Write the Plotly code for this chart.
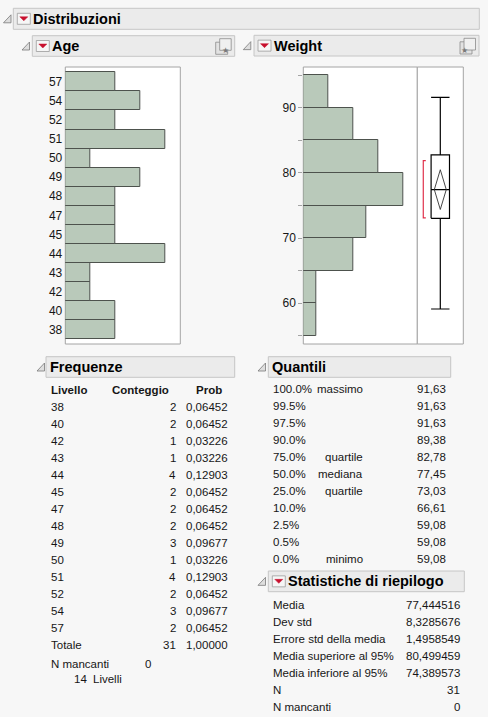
import plotly.graph_objects as go

W, H = 488, 717

age_levels = ["38", "40", "42", "43", "44", "45", "47", "48", "49", "50", "51", "52", "54", "57"]
age_counts = [2, 2, 1, 1, 4, 2, 2, 2, 3, 1, 4, 2, 3, 2]

weight_bin_lo = [55, 60, 65, 70, 75, 80, 85, 90]
weight_bin_counts = [1, 1, 4, 5, 8, 6, 4, 2]
weight_bin_width = 5
weight_tickvals = [55, 60, 65, 70, 75, 80, 85, 90, 95]
weight_ticktext = ["", "60", "", "70", "", "80", "", "90", ""]

quant_pct = ["100.0%", "99.5%", "97.5%", "90.0%", "75.0%", "50.0%",
             "25.0%", "10.0%", "2.5%", "0.5%", "0.0%"]
quant_name = ["massimo", "", "", "", "quartile", "mediana", "quartile", "", "", "", "minimo"]
quant_val = [91.63, 91.63, 91.63, 89.38, 82.78, 77.45, 73.03, 66.61, 59.08, 59.08, 59.08]

stat_names = ["Media", "Dev std", "Errore std della media", "Media superiore al 95%",
              "Media inferiore al 95%", "N", "N mancanti"]
stat_vals = [77.444516, 8.3285676, 1.4958549, 80.499459, 74.389573, 31, 0]

shortest_half = [73.1, 81.9]  # red bracket, estimated
n_missing_age = 0

# --- style ---
FONT = "Liberation Sans"
FS = 11.5
TXT = "#161616"
BAR_FILL = "#b9c9ba"
BAR_LINE = "#4d524d"
HDR_FILL = "#ebebeb"
HDR_LINE = "#c6c6c6"
FRAME = "#a4a4a4"


def X(px):
    return px / W


def Y(py):
    return 1 - py / H


shapes = []
annos = []


def txt(x, y, s, anchor="left", size=FS, bold=False, color=TXT):
    annos.append(dict(
        x=X(x), y=Y(y), xref="paper", yref="paper", text=f"<b>{s}</b>" if bold else s,
        showarrow=False, xanchor=anchor, yanchor="middle", borderpad=0,
        font=dict(family=FONT, size=size, color=color),
    ))


def rect(x0, y0, x1, y1, fill, line, width=1, layer="below"):
    shapes.append(dict(type="rect", xref="paper", yref="paper",
                       x0=X(x0), x1=X(x1), y0=Y(y1), y1=Y(y0),
                       fillcolor=fill, line=dict(color=line, width=width), layer=layer))


def path(pts, fill, line, width=1):
    d = "M " + " L ".join(f"{X(a)},{Y(b)}" for a, b in pts) + " Z"
    shapes.append(dict(type="path", xref="paper", yref="paper", path=d,
                       fillcolor=fill, line=dict(color=line, width=width), layer="above"))


def disclosure(x, y):
    path([(x, y + 8), (x + 7.5, y + 8), (x + 7.5, y)], "#dedede", "#7a7a7a", 0.8)


def red_button(x, y, w=13, h=11):
    rect(x, y, x + w, y + h, "#f6f6f6", "#9c9c9c", 0.8, layer="above")
    cx = x + w / 2
    path([(cx - 4, y + 3.5), (cx + 4, y + 3.5), (cx, y + 7.5)], "#c8102e", "#c8102e", 0.5)


def header(x0, y0, x1, y1, title, tri_x, button=True, icon=False):
    rect(x0, y0, x1, y1, HDR_FILL, HDR_LINE)
    disclosure(tri_x, (y0 + y1) / 2 - 4)
    tx = x0 + 3
    if button:
        red_button(x0 + 4, (y0 + y1) / 2 - 5.5)
        tx = x0 + 19
    txt(tx, (y0 + y1) / 2, title, size=14.5, bold=True, color="#000000")
    if icon:
        rect(x1 - 19, y0 + 6.5, x1 - 7, y1 - 2, "#e2e2e2", "#8a8a8a", 0.8, layer="above")
        rect(x1 - 15, y0 + 3, x1 - 3.5, y1 - 6, "#f0f0f0", "#8a8a8a", 0.8, layer="above")
        annos.append(dict(x=X(x1 - 9.3), y=Y((y0 + y1) / 2 - 2), xref="paper", yref="paper",
                          text="★", showarrow=False, font=dict(size=8, color="#7a7a7a")))


# --- headers ---
header(13.3, 8.3, 479.3, 29.3, "Distribuzioni", 3.5)
header(32.3, 35.7, 234.7, 56.3, "Age", 22, icon=True)
header(254, 35.3, 479, 56, "Weight", 243.3, icon=True)
header(46, 356.7, 234.7, 377.3, "Frequenze", 37, button=False)
header(268.3, 356.7, 450.7, 377.3, "Quantili", 258, button=False)
header(268.3, 571, 464.3, 591.7, "Statistiche di riepilogo", 258)

# --- plot frames ---
PT, PB = 67, 344
AGE_L, AGE_R = 65.3, 180.3
WT_L, WT_M, WT_R = 303.3, 417.3, 463.3
rect(AGE_L, PT, AGE_R, PB, "white", FRAME)
rect(WT_L, PT, WT_M, PB, "white", FRAME)
rect(WT_M, PT, WT_R, PB, "white", FRAME)

fig = go.Figure()

# Age histogram
fig.add_trace(go.Bar(
    x=age_counts, y=age_levels, orientation="h", width=1,
    marker=dict(color=BAR_FILL, line=dict(color=BAR_LINE, width=1)),
    xaxis="x", yaxis="y", hoverinfo="x+y",
))

# Weight histogram
weight_centers = [lo + weight_bin_width / 2 for lo in weight_bin_lo]
fig.add_trace(go.Bar(
    x=weight_bin_counts, y=weight_centers, orientation="h", width=weight_bin_width,
    marker=dict(color=BAR_FILL, line=dict(color=BAR_LINE, width=1)),
    xaxis="x2", yaxis="y2", hoverinfo="x+y",
))

# Outlier box plot for Weight
q_max, q3, med, q1, q_min = quant_val[0], quant_val[4], quant_val[5], quant_val[6], quant_val[10]
mean, hi95, lo95 = stat_vals[0], stat_vals[3], stat_vals[4]


def seg(xs, ys, color="#000000", width=1.2):
    fig.add_trace(go.Scatter(x=xs, y=ys, mode="lines", xaxis="x3", yaxis="y2",
                             line=dict(color=color, width=width), hoverinfo="skip"))


seg([0.5, 0.5], [q3, q_max])
seg([0.5, 0.5], [q_min, q1])
seg([0.3, 0.7], [q_max, q_max])
seg([0.3, 0.7], [q_min, q_min])
seg([0.3, 0.7, 0.7, 0.3, 0.3], [q1, q1, q3, q3, q1])
seg([0.3, 0.7], [med, med])
seg([0.5, 0.63, 0.5, 0.37, 0.5], [hi95, mean, lo95, mean, hi95], color="#333333", width=0.9)
seg([0.185, 0.13, 0.13, 0.185], [shortest_half[1], shortest_half[1], shortest_half[0], shortest_half[0]],
    color="#e0314b", width=1.2)

fig.update_layout(
    width=W, height=H, margin=dict(l=0, r=0, t=0, b=0),
    paper_bgcolor="#f7f7f7", plot_bgcolor="rgba(0,0,0,0)",
    showlegend=False, bargap=0,
    font=dict(family=FONT, size=FS, color=TXT),
    xaxis=dict(domain=[X(AGE_L), X(AGE_R)], range=[0, 4.6], visible=False, fixedrange=True),
    yaxis=dict(domain=[Y(PB), Y(PT)], type="category", categoryorder="array",
               categoryarray=age_levels, range=[-0.75, 13.78], showgrid=False,
               zeroline=False, ticks="", showline=False, tickfont=dict(size=FS + 0.5, color=TXT),
               ticklabelstandoff=2),
    xaxis2=dict(domain=[X(WT_L), X(WT_M)], range=[0, 9.12], visible=False, anchor="y2"),
    yaxis2=dict(domain=[Y(PB), Y(PT)], range=[53.7, 96.3], anchor="x2",
                tickvals=weight_tickvals, ticktext=weight_ticktext,
                ticks="outside", ticklen=4, tickcolor=FRAME, showgrid=False,
                zeroline=False, showline=False, tickfont=dict(size=FS + 0.5, color=TXT)),
    xaxis3=dict(domain=[X(WT_M), X(WT_R)], range=[0, 1], visible=False, anchor="y2"),
    shapes=shapes,
)

# --- Frequenze table ---
ROW = 17
txt(50, 390, "Livello", bold=True)
txt(111, 390, "Conteggio", bold=True)
txt(195, 390, "Prob", bold=True)
total = sum(age_counts)
for i, (lev, c) in enumerate(zip(age_levels, age_counts)):
    y = 406.7 + i * ROW
    txt(50, y, lev)
    txt(177.3, y, str(c), anchor="right")
    txt(229.3, y, f"{c / total:.5f}".replace(".", ","), anchor="right")
y_tot = 406.7 + len(age_levels) * ROW
txt(50, y_tot, "Totale")
txt(177.3, y_tot, str(total), anchor="right")
txt(229.3, y_tot, f"{1:.5f}".replace(".", ","), anchor="right")
txt(50, y_tot + 19, "N mancanti")
txt(151.5, y_tot + 19, str(n_missing_age), anchor="right")
txt(88, y_tot + 34, str(len(age_levels)), anchor="right")
txt(92, y_tot + 34, "Livelli")

# --- Quantili table ---
for i, (p, n, v) in enumerate(zip(quant_pct, quant_name, quant_val)):
    y = 389.3 + i * ROW
    txt(272.3, y, p)
    if n:
        txt(363.5, y, n, anchor="right")
    txt(447.3, y, f"{v:.2f}".replace(".", ","), anchor="right")

# --- Statistiche di riepilogo ---
for i, (n, v) in enumerate(zip(stat_names, stat_vals)):
    y = 605 + i * ROW
    txt(272.3, y, n)
    txt(461, y, f"{v:.8g}".replace(".", ","), anchor="right")

fig.update_layout(annotations=annos)
# page margin off so the 488x717 figure fills the window exactly
fig.write_html(
    "out.html",
    config={"displayModeBar": False},
    post_script="document.body.style.margin='0';document.body.style.overflow='hidden';",
)
